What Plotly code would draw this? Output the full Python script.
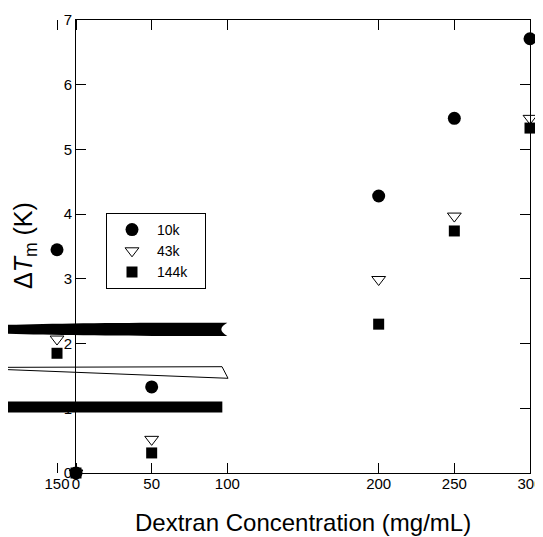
import plotly.graph_objects as go

# ---- data ----
conc = [0, 50, 100, 150, 200, 250, 300]            # dextran concentration, mg/mL
dT_10k = [0.00, 1.33, 2.22, 3.45, 4.28, 5.48, 6.71]
dT_43k = [0.00, 0.52, 1.55, 2.07, 2.99, 3.97, 5.48]
dT_144k = [0.00, 0.31, 1.02, 1.85, 2.30, 3.74, 5.33]
series_names = ["10k", "43k", "144k"]
y_ticks = [0, 1, 2, 3, 4, 5, 6, 7]

# ---- quirks of the source figure ----
PLACED = {150: -12.55}      # the 150 mg/mL column (and its tick) is drawn left of the axis
SMEARED = 100               # markers of the 100 mg/mL column are smeared to the left

# figure geometry (figure pixels; the page adds an 8px body margin)
W, H = 535, 529
PLOT_L, PLOT_R = 0, 522
PLOT_T, PLOT_B = 12, 465
X0_PX = 68                  # pixel where x = 0 sits
X_MAX = 300
X_MIN = -X0_PX * X_MAX / (PLOT_R - X0_PX)
Y_MIN, Y_MAX = 0, 7
PW, PH = PLOT_R - PLOT_L, PLOT_B - PLOT_T
FONT = "Arial, Liberation Sans, sans-serif"
LEGEND_PAD = "\u00a0" * 3   # widens the legend box like the reference


def xpos(c):
    return PLACED.get(c, c)


styles = {
    "10k": dict(symbol="circle", size=13, color="black", line=dict(width=0)),
    "43k": dict(symbol="triangle-down-open", size=12, color="black", line=dict(width=1, color="black")),
    "144k": dict(symbol="square", size=11, color="black", line=dict(width=0)),
}
values = {"10k": dT_10k, "43k": dT_43k, "144k": dT_144k}

fig = go.Figure()
for name in series_names:
    xs = [xpos(c) for c in conc if c != SMEARED]
    ys = [v for c, v in zip(conc, values[name]) if c != SMEARED]
    fig.add_trace(go.Scatter(x=xs, y=ys, mode="markers", name=name + LEGEND_PAD,
                             marker=styles[name], cliponaxis=False,
                             hoverinfo="skip"))

# invisible trace so the framing axis x2 exists
fig.add_trace(go.Scatter(x=[0], y=[0], xaxis="x2", yaxis="y", mode="markers",
                         marker=dict(opacity=0), showlegend=False, hoverinfo="skip"))

# smeared markers of the 100 mg/mL column (pixel geometry relative to the data point)
i100 = conc.index(SMEARED)
circle_path = ("M 0,6.6 L -50,6.7 C -177,6.7 -280,3.7 -280,0 "
               "C -280,-3.7 -177,-6.7 -50,-6.7 L 0,-6.6 Q -12,0 0,6.6 Z")
tri_path = "M -274,5.2 L -5.3,6 L 0.7,-5.6 Z"
fig.add_shape(type="path", xref="x", yref="y", xsizemode="pixel", ysizemode="pixel",
              xanchor=SMEARED, yanchor=dT_10k[i100], path=circle_path,
              fillcolor="black", line=dict(width=0))
fig.add_shape(type="path", xref="x", yref="y", xsizemode="pixel", ysizemode="pixel",
              xanchor=SMEARED, yanchor=dT_43k[i100], path=tri_path,
              fillcolor="rgba(0,0,0,0)", line=dict(width=1, color="black"))
fig.add_shape(type="rect", xref="x", yref="y", xsizemode="pixel", ysizemode="pixel",
              xanchor=SMEARED, yanchor=dT_144k[i100], x0=-400, x1=-5, y0=-5.5, y1=5.5,
              fillcolor="black", line=dict(width=0))

tick_pos = [xpos(c) for c in conc if c != 150] + [xpos(150)]
tick_txt = [str(c) for c in conc if c != 150] + ["150"]

x0_frac = (0 - X_MIN) / (X_MAX - X_MIN)

fig.update_layout(
    width=W, height=H,
    margin=dict(l=PLOT_L, r=W - PLOT_R, t=PLOT_T, b=H - PLOT_B),
    paper_bgcolor="white", plot_bgcolor="rgba(0,0,0,0)",
    font=dict(family=FONT, color="black"),
    xaxis=dict(domain=[0, 1], range=[X_MIN, X_MAX], anchor="y",
               tickmode="array", tickvals=tick_pos, ticktext=tick_txt,
               ticks="inside", ticklen=10, tickcolor="black", tickwidth=1,
               mirror="ticks", showline=False, showgrid=False, zeroline=False,
               tickfont=dict(size=15, family=FONT, color="black")),
    xaxis2=dict(domain=[x0_frac, 1], range=[0, X_MAX], anchor="y",
                showline=True, linecolor="black", linewidth=1, mirror=True,
                ticks="", showticklabels=False, showgrid=False, zeroline=False),
    yaxis=dict(domain=[0, 1], range=[Y_MIN, Y_MAX], anchor="x2",
               tickmode="array", tickvals=y_ticks,
               ticks="inside", ticklen=10, tickcolor="black", tickwidth=1,
               showline=True, linecolor="black", linewidth=1, mirror="ticks",
               showgrid=False, zeroline=False,
               tickfont=dict(size=15, family=FONT, color="black")),
    legend=dict(x=98 / PW, y=(PLOT_B - 205) / PH, xanchor="left", yanchor="top",
                bgcolor="white", bordercolor="black", borderwidth=1,
                itemwidth=40,
                font=dict(size=14, family=FONT, color="black")),
    showlegend=True,
)

fig.add_annotation(text="Dextran Concentration (mg/mL)", xref="x", yref="paper",
                   x=150, y=-49 / PH, xanchor="center", yanchor="middle",
                   showarrow=False, font=dict(size=24, family=FONT, color="black"))
fig.add_annotation(text="Δ<i>T</i><sub>m</sub> (K)", xref="paper", yref="paper",
                   x=17 / PW, y=(PLOT_B - 238) / PH, xanchor="center", yanchor="middle",
                   textangle=-90, showarrow=False,
                   font=dict(size=25, family=FONT, color="black"))

fig.write_html("out.html")
